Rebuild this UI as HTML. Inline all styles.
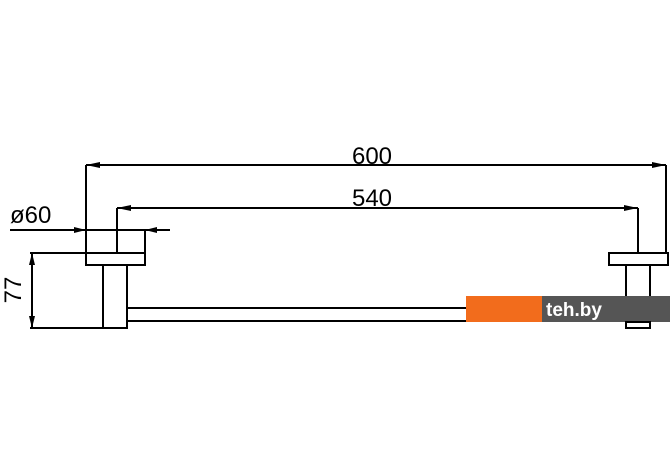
<!DOCTYPE html>
<html><head><style>body{margin:0;background:#fff}</style></head><body>
<svg width="670" height="471" viewBox="0 0 670 471" xmlns="http://www.w3.org/2000/svg" font-family="Liberation Sans, sans-serif">
<g stroke="#000" stroke-width="2" fill="none">
<line x1="86" y1="165" x2="86" y2="265"/>
<line x1="86" y1="165" x2="666" y2="165"/>
<line x1="666" y1="165" x2="666" y2="253"/>
<line x1="117" y1="208" x2="117" y2="253"/>
<line x1="117" y1="208" x2="638" y2="208"/>
<line x1="638" y1="208" x2="638" y2="253"/>
<line x1="10" y1="230" x2="170" y2="230"/>
<line x1="145" y1="230" x2="145" y2="253"/>
<rect x="86" y="253" width="59" height="12"/>
<rect x="103" y="265" width="24" height="63"/>
<rect x="127" y="308" width="500" height="13"/>
<rect x="609" y="253" width="59" height="12"/>
<rect x="626" y="265" width="24" height="63"/>
<line x1="30" y1="253" x2="86" y2="253"/>
<line x1="30" y1="328" x2="103" y2="328"/>
<line x1="32" y1="253" x2="32" y2="328"/>
</g>
<g fill="#000">
<polygon points="86,165 100,162 100,168"/><polygon points="666,165 652,162 652,168"/>
<polygon points="117,208 131,205 131,211"/><polygon points="638,208 624,205 624,211"/>
<polygon points="86,230 74,227 74,233"/><polygon points="145,230 157,227 157,233"/>
<polygon points="32,253 29,265 35,265"/><polygon points="32,328 29,316 35,316"/>
</g>
<text x="372" y="164" font-size="24" text-anchor="middle">600</text>
<text x="372" y="206" font-size="24" text-anchor="middle">540</text>
<text x="10" y="223" font-size="24">ø60</text>
<text transform="translate(21,290) rotate(-90)" font-size="24" text-anchor="middle">77</text>
<rect x="466" y="296" width="76" height="26" fill="#f26c1c"/>
<rect x="542" y="296" width="128" height="26" fill="#555"/>
<rect x="626" y="322" width="24" height="6" fill="#fff" stroke="#000" stroke-width="2"/>
<text x="546" y="316" font-size="19" fill="#fff" font-weight="bold">teh.by</text>
</svg>
</body></html>
